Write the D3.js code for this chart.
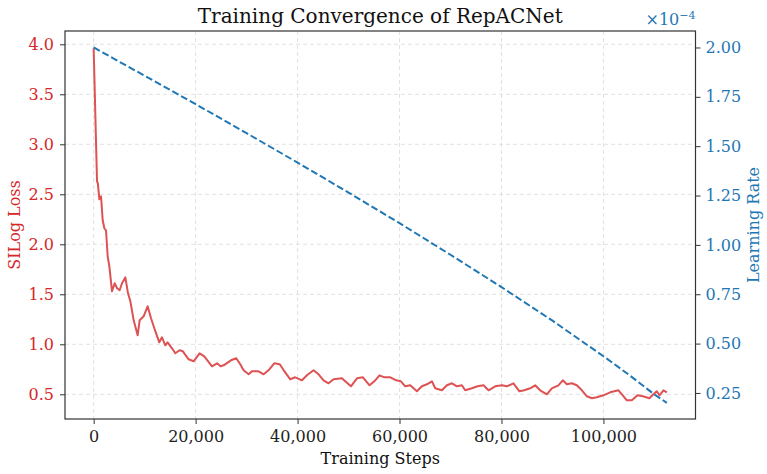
<!DOCTYPE html>
<html>
<head>
<meta charset="utf-8">
<script src="https://cdn.jsdelivr.net/npm/d3@7"></script>
<style>
  html, body { margin: 0; padding: 0; background: #fff; }
  svg { display: block; font-family: 'DejaVu Serif', serif; }
</style>
</head>
<body>
<svg id="chart" width="767" height="474"></svg>
<script>
// ---- data ----
const steps = [0, 660, 820, 1120, 1450, 1770, 2100, 2420, 2750, 3080, 3600, 4120, 4600, 5100, 5560, 6220, 6740, 7200, 7850, 8630,
  9020, 9800, 10590, 11250, 11900, 12880, 13400, 14060, 14500, 15370, 16020, 16860, 17500, 18630, 19610, 20780, 21700, 23220, 24200, 24900,
  25490, 26940, 27980, 28760, 29410, 30400, 31050, 32350, 33340, 34300, 35430, 36500, 37290, 38570, 39550, 40860, 41840, 43140, 44120, 45100,
  46080, 47060, 48700, 49350, 50470, 51650, 52830, 54120, 55050, 56080, 57020, 58200, 59350, 60270, 61120, 62100, 63410, 64390, 65370, 66350,
  67000, 68320, 69300, 70280, 71260, 72240, 72880, 74200, 75300, 76480, 77460, 78770, 80080, 81060, 82350, 83530, 84450, 85630, 86610, 87590,
  88900, 89880, 91180, 92030, 92820, 93800, 94780, 95770, 96750, 97730, 98710, 100000, 101330, 102940, 103800, 104590, 105570, 106680, 107730, 109020,
  109800, 110470, 110990, 111770, 112440];
const loss = [3.96, 2.63, 2.61, 2.45, 2.48, 2.24, 2.16, 2.14, 1.88, 1.78, 1.53, 1.61, 1.56, 1.54, 1.61, 1.67, 1.51, 1.43, 1.24, 1.09,
  1.24, 1.28, 1.38, 1.26, 1.16, 1.02, 1.07, 0.99, 1.02, 0.96, 0.91, 0.94, 0.93, 0.85, 0.83, 0.91, 0.88, 0.78, 0.81, 0.78,
  0.79, 0.84, 0.86, 0.80, 0.74, 0.70, 0.73, 0.73, 0.70, 0.74, 0.81, 0.80, 0.74, 0.65, 0.67, 0.64, 0.69, 0.74, 0.70, 0.64,
  0.61, 0.65, 0.66, 0.63, 0.58, 0.66, 0.67, 0.59, 0.63, 0.69, 0.67, 0.67, 0.64, 0.63, 0.58, 0.59, 0.53, 0.58, 0.60, 0.63,
  0.56, 0.54, 0.59, 0.61, 0.58, 0.59, 0.54, 0.56, 0.58, 0.59, 0.54, 0.58, 0.59, 0.58, 0.61, 0.53, 0.54, 0.56, 0.59, 0.54,
  0.50, 0.56, 0.59, 0.64, 0.60, 0.61, 0.59, 0.54, 0.48, 0.46, 0.47, 0.49, 0.52, 0.54, 0.49, 0.44, 0.44, 0.49, 0.48, 0.46,
  0.50, 0.53, 0.49, 0.54, 0.52];
const lrSteps = [0, 10000, 20000, 30000, 40000, 50000, 60000, 70000, 80000, 90000, 100000, 105000, 110000, 112440];
const lrValues = [2.00, 1.857, 1.713, 1.566, 1.417, 1.265, 1.110, 0.950, 0.786, 0.616, 0.436, 0.342, 0.242, 0.20]; // x 1e-4
const xTicks = [0, 20000, 40000, 60000, 80000, 100000];
const lossTicks = [0.5, 1.0, 1.5, 2.0, 2.5, 3.0, 3.5, 4.0];
const lrTicks = [0.25, 0.50, 0.75, 1.00, 1.25, 1.50, 1.75, 2.00];

// ---- layout ----
const mLeft = 65, mTop = 31, mRight = 695.5, mBottom = 419;
const RED = '#d62728', RED_LINE = '#de5253', BLUE = '#1f77b4', SPINE = '#333';

const svg = d3.select('#chart');
const x = d3.scaleLinear().domain([-5622, 118062]).range([mLeft, mRight]);
const yL = d3.scaleLinear().domain([0.253, 4.133]).range([mBottom, mTop]);
const yR = d3.scaleLinear().domain([0.118, 2.0835]).range([mBottom, mTop]);

// grid
const grid = svg.append('g').attr('stroke', '#d9d9d9').attr('stroke-width', 0.8).attr('stroke-dasharray', '4,3');
grid.selectAll('line.v').data(xTicks).join('line').attr('class', 'v')
  .attr('x1', d => x(d)).attr('x2', d => x(d)).attr('y1', mTop).attr('y2', mBottom);
grid.selectAll('line.h').data(lossTicks).join('line').attr('class', 'h')
  .attr('x1', mLeft).attr('x2', mRight).attr('y1', d => yL(d)).attr('y2', d => yL(d));

// lines
const lossLine = d3.line().x((d, i) => x(steps[i])).y(d => yL(d));
svg.append('path').datum(loss).attr('d', lossLine)
  .attr('fill', 'none').attr('stroke', RED_LINE).attr('stroke-width', 2).attr('stroke-linejoin', 'round');

const lrLine = d3.line().x((d, i) => x(lrSteps[i])).y(d => yR(d));
svg.append('path').datum(lrValues).attr('d', lrLine)
  .attr('fill', 'none').attr('stroke', BLUE).attr('stroke-width', 2).attr('stroke-dasharray', '7,3');

// spines
svg.append('rect').attr('x', mLeft).attr('y', mTop).attr('width', mRight - mLeft).attr('height', mBottom - mTop)
  .attr('fill', 'none').attr('stroke', SPINE).attr('stroke-width', 1.2);

// axes
const fs = '16px';
const gx = svg.append('g').attr('transform', `translate(0,${mBottom})`)
  .call(d3.axisBottom(x).tickValues(xTicks).tickFormat(d3.format(',')).tickSize(5).tickSizeOuter(0).tickPadding(6.5));
gx.select('.domain').remove();
gx.selectAll('line').attr('stroke', SPINE);
gx.selectAll('text').attr('font-family', 'DejaVu Serif').attr('font-size', fs).attr('fill', '#222');

const gl = svg.append('g').attr('transform', `translate(${mLeft},0)`)
  .call(d3.axisLeft(yL).tickValues(lossTicks).tickFormat(d3.format('.1f')).tickSize(5).tickSizeOuter(0).tickPadding(6));
gl.select('.domain').remove();
gl.selectAll('line').attr('stroke', SPINE);
gl.selectAll('text').attr('font-family', 'DejaVu Serif').attr('font-size', fs).attr('fill', RED);

const gr = svg.append('g').attr('transform', `translate(${mRight},0)`)
  .call(d3.axisRight(yR).tickValues(lrTicks).tickFormat(d3.format('.2f')).tickSize(5).tickSizeOuter(0).tickPadding(5));
gr.select('.domain').remove();
gr.selectAll('line').attr('stroke', SPINE);
gr.selectAll('text').attr('font-family', 'DejaVu Serif').attr('font-size', fs).attr('fill', BLUE);

// titles and labels
svg.append('text').attr('x', (mLeft + mRight) / 2).attr('y', 23).attr('text-anchor', 'middle')
  .attr('font-size', '20px').attr('fill', '#111').text('Training Convergence of RepACNet');
svg.append('text').attr('x', (mLeft + mRight) / 2).attr('y', 464).attr('text-anchor', 'middle')
  .attr('font-size', '16px').attr('fill', '#111').text('Training Steps');
svg.append('text').attr('transform', `translate(19.5,${(mTop + mBottom) / 2}) rotate(-90)`).attr('text-anchor', 'middle')
  .attr('font-size', '16px').attr('fill', RED).text('SILog Loss');
svg.append('text').attr('transform', `translate(759,${(mTop + mBottom) / 2}) rotate(-90)`).attr('text-anchor', 'middle')
  .attr('font-size', '16px').attr('fill', BLUE).text('Learning Rate');
const off = svg.append('text').attr('x', mRight).attr('y', 25).attr('text-anchor', 'end')
  .attr('font-size', '16px').attr('fill', BLUE);
off.append('tspan').text('×10');
off.append('tspan').attr('dy', -6).attr('font-size', '11px').text('−4');
</script>
</body>
</html>
